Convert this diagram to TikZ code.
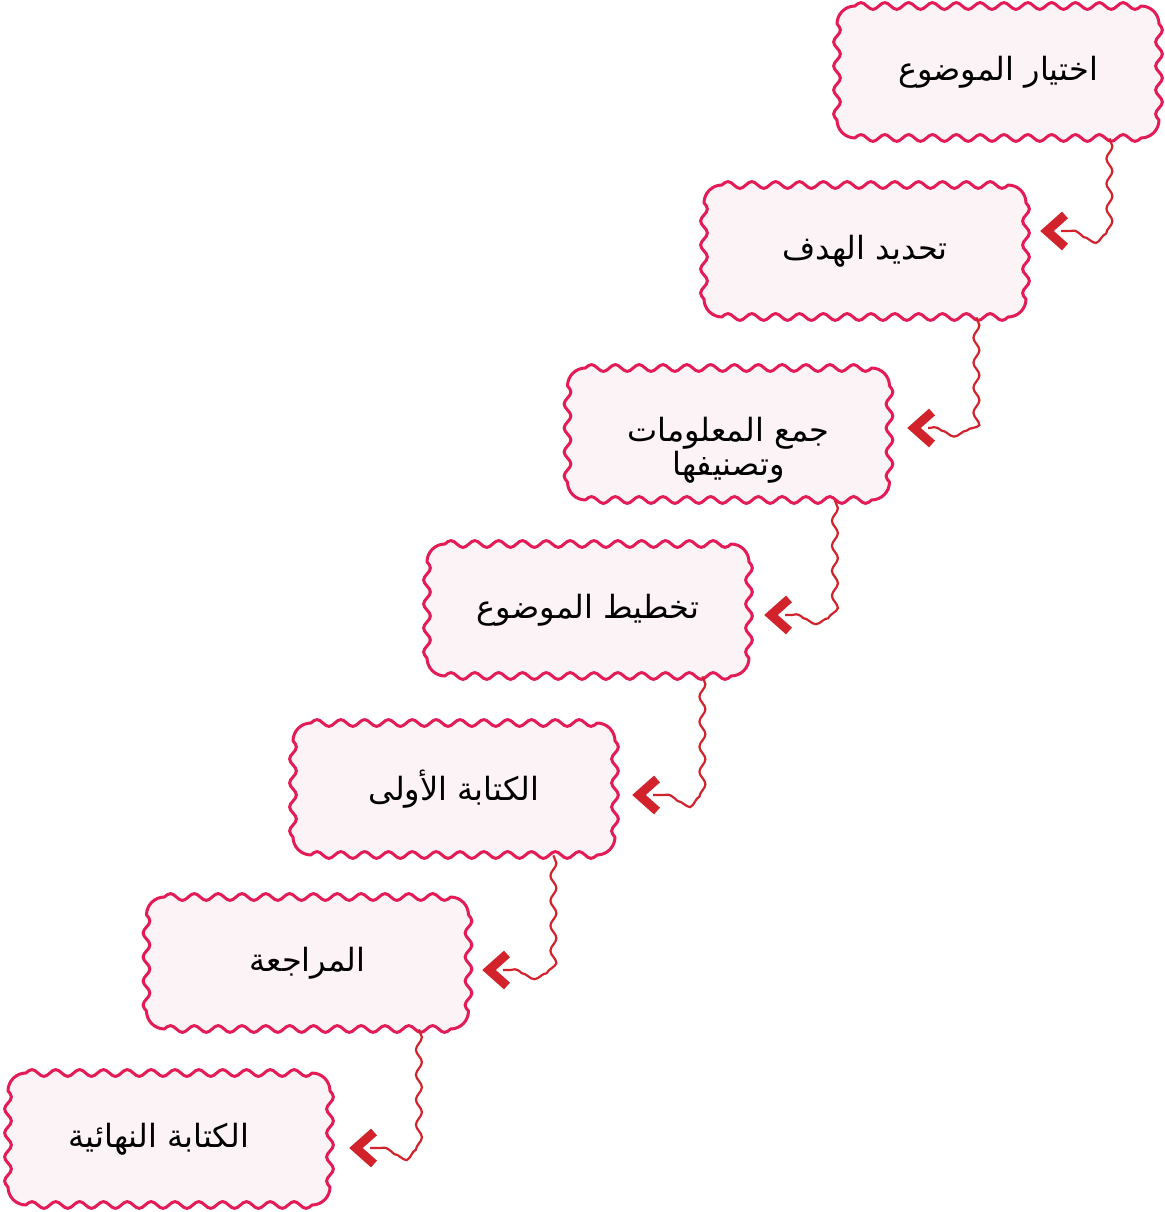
\documentclass[tikz,border=0pt]{standalone}
\usepackage{fontspec}
\usetikzlibrary{decorations.pathmorphing,calc}
\TeXXeTstate=1
\newfontfamily\arabicfont[Script=Arabic]{DejaVu Sans}
\newcommand\rtl[1]{\beginR #1\endR}

\definecolor{waveedge}{HTML}{E31B57}
\definecolor{wavefill}{HTML}{FCF3F6}
\definecolor{linkred}{HTML}{D2232D}

\tikzset{
  stepbox/.style={minimum width=161pt, minimum height=66pt,
    inner sep=0pt, align=center,
    font=\arabicfont\fontsize{16}{17}\selectfont},
  steptext/.style={inner sep=0pt, align=center,
    font=\arabicfont\fontsize{16}{17}\selectfont},
  waveframe/.style={draw=waveedge, line width=1.5pt, fill=wavefill,
    line join=round},
  link/.style={draw=linkred, line width=1.1pt,
    decorate, decoration={snake, segment length=12.5pt, amplitude=1.5pt}},
  chevron/.style={draw=linkred, line width=4.5pt, line join=miter}
}

% wavy rounded frame (322 x 132 units) centred at (#1,#2)
\newcommand\wavyframe[2]{%
  \begin{scope}[shift={(#1,#2)}]
    \path[waveframe] (-143,66)
      -- plot[domain=0:286, samples=97, smooth] ({-143+\x},{66+3.4*sin(15.1049*\x)})
      arc[start angle=90, end angle=0, radius=18]
      -- plot[domain=0:96, samples=33, smooth] ({161+3.4*sin(15*\x)},{48-\x})
      arc[start angle=0, end angle=-90, radius=18]
      -- plot[domain=0:286, samples=97, smooth] ({143-\x},{-66-3.4*sin(15.1049*\x)})
      arc[start angle=270, end angle=180, radius=18]
      -- plot[domain=0:96, samples=33, smooth] ({-161-3.4*sin(15*\x)},{-48+\x})
      arc[start angle=180, end angle=90, radius=18] -- cycle;
  \end{scope}}

% wavy connector: down from #1, then left to the tip #2
\newcommand\wavylink[2]{%
  \coordinate (corner) at (#1 |- #2);
  \draw[link] (#1) -- ([yshift=5pt]corner)
    arc[start angle=0, end angle=-90, radius=5pt]
    -- ($(#2)+(14,0)$);
  \draw[chevron] ($(#2)+(18,-16)$) -- (#2) -- ($(#2)+(18,16)$);}

\begin{document}
\begin{tikzpicture}[x=0.5pt,y=0.5pt]
\useasboundingbox (0,0) rectangle (1165,1212);

% frames of the seven stages
\wavyframe{998}{1140}
\wavyframe{865}{961}
\wavyframe{728.5}{778}
\wavyframe{588}{602}
\wavyframe{454}{423}
\wavyframe{307.5}{249}
\wavyframe{169}{73}

% the seven stages, stepping down to the left
\node[stepbox] (b1) at (998,1140)  {\raisebox{2pt}{\rtl{اختيار الموضوع}}};
\node[stepbox] (b2) at (865,961)   {\raisebox{2pt}{\rtl{تحديد الهدف}}};
\node[stepbox] (b3) at (728.5,778) {};
\node[steptext] at ([yshift=-8pt]b3.center) {\rtl{جمع المعلومات}\\\rtl{وتصنيفها}};
\node[stepbox] (b4) at (588,602)   {\raisebox{2pt}{\rtl{تخطيط الموضوع}}};
\node[stepbox] (b5) at (454,423)   {\raisebox{2pt}{\rtl{الكتابة الأولى}}};
\node[stepbox] (b6) at (307.5,249) {\raisebox{2pt}{\rtl{المراجعة}}};
\node[stepbox] (b7) at (169,73)    {\raisebox{2pt}{\rtl{الكتابة النهائية}}\hspace{10pt}};

% where each connector leaves a stage
\coordinate (s1) at ($(b1.south east)+(-50,0)$);
\coordinate (s2) at ($(b2.south east)+(-50,0)$);
\coordinate (s3) at ($(b3.south east)+(-55,0)$);
\coordinate (s4) at ($(b4.south east)+(-47,0)$);
\coordinate (s5) at ($(b5.south east)+(-62,0)$);
\coordinate (s6) at ($(b6.south east)+(-50,0)$);

% arrow tips at the right side of the next stage
\coordinate (t2) at (1047,981);
\coordinate (t3) at (914,784);
\coordinate (t4) at (771,597);
\coordinate (t5) at (639,417);
\coordinate (t6) at (489,242);
\coordinate (t7) at (356,64);

\wavylink{s1}{t2}
\wavylink{s2}{t3}
\wavylink{s3}{t4}
\wavylink{s4}{t5}
\wavylink{s5}{t6}
\wavylink{s6}{t7}
\end{tikzpicture}
\end{document}
